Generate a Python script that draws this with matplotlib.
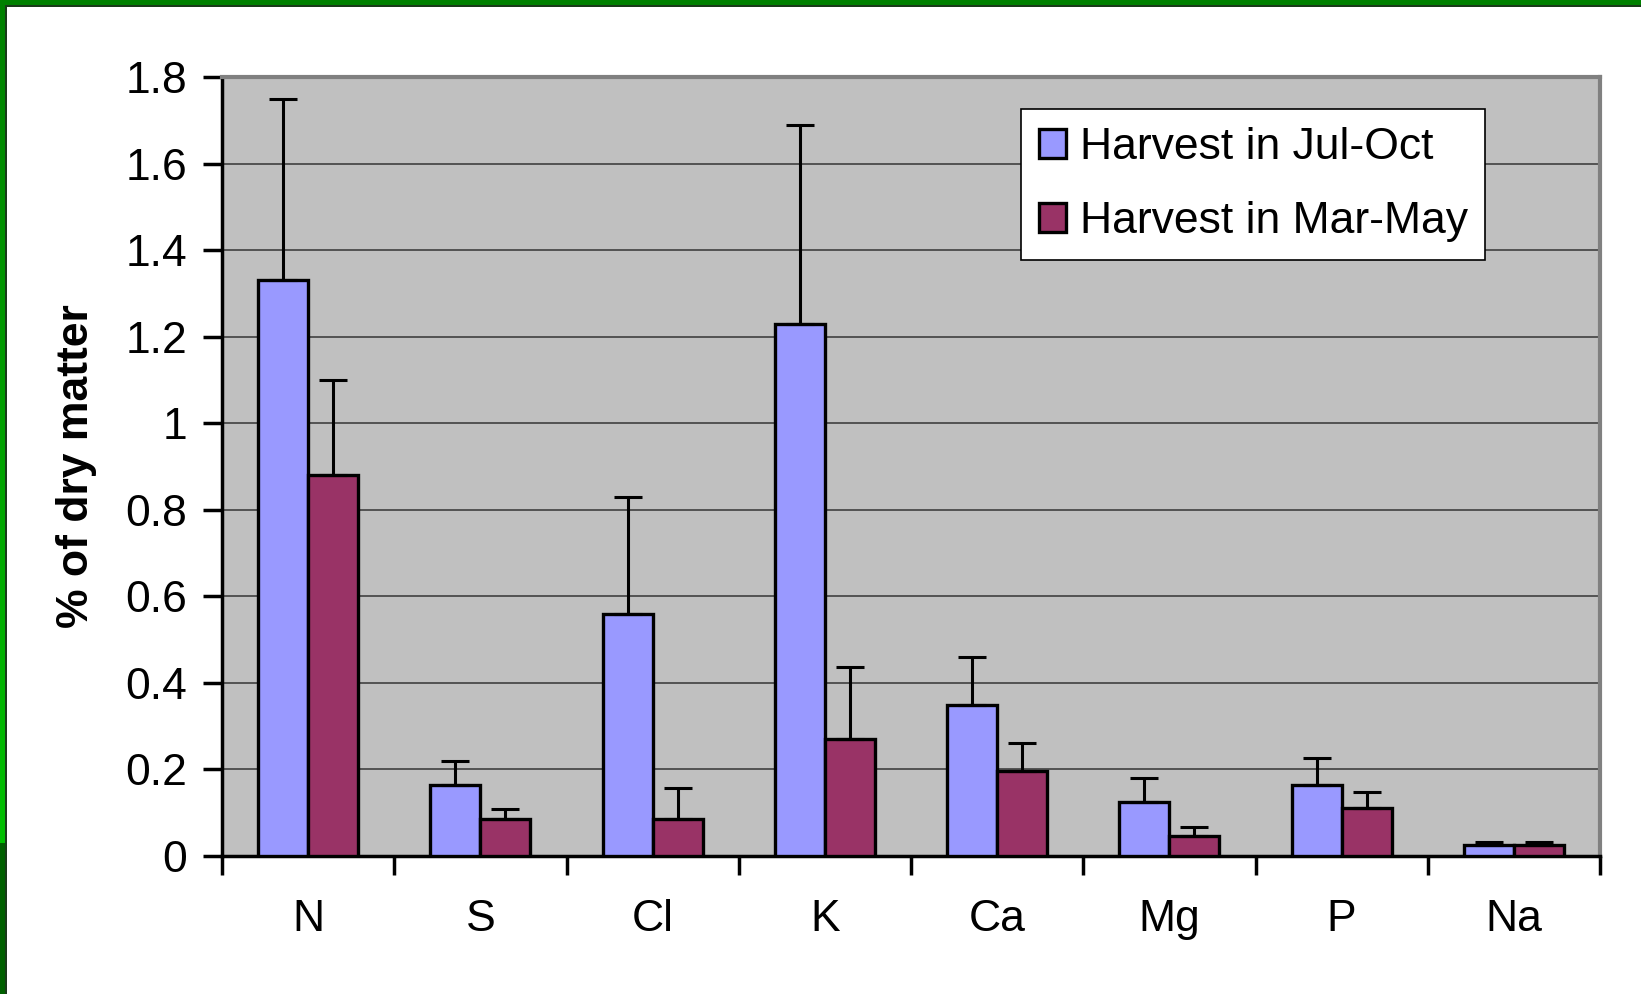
import numpy as np
import matplotlib
matplotlib.use("Agg")
import matplotlib.pyplot as plt
from matplotlib.patches import Rectangle
from matplotlib.colors import LinearSegmentedColormap

categories = ["N", "S", "Cl", "K", "Ca", "Mg", "P", "Na"]
jul_oct = [1.33, 0.165, 0.56, 1.23, 0.35, 0.125, 0.165, 0.025]
jul_oct_err = [0.42, 0.055, 0.27, 0.46, 0.11, 0.055, 0.062, 0.007]
mar_may = [0.88, 0.085, 0.085, 0.27, 0.197, 0.046, 0.11, 0.025]
mar_may_err = [0.22, 0.024, 0.072, 0.167, 0.063, 0.022, 0.038, 0.007]
series_names = ["Harvest in Jul-Oct", "Harvest in Mar-May"]
yticks = [0, 0.2, 0.4, 0.6, 0.8, 1, 1.2, 1.4, 1.6, 1.8]
ytick_labels = ["0", "0.2", "0.4", "0.6", "0.8", "1", "1.2", "1.4", "1.6", "1.8"]

plt.rcParams['font.family'] = ['Liberation Sans', 'DejaVu Sans']

W, H = 1641, 994
fig = plt.figure(figsize=(W / 100, H / 100), dpi=100)
fig.patch.set_facecolor("white")

# green frame on top and left
grad = np.linspace(0, 1, 256).reshape(-1, 1)
cmap = LinearSegmentedColormap.from_list("g", ["#008000", "#00C000"])
axg = fig.add_axes([0, 151 / H, 5 / W, (843 - 0) / H])
axg.imshow(grad, aspect="auto", cmap=cmap, extent=[0, 1, 1, 0])
axg.axis("off")
fig.patches.append(Rectangle((0, 0), 5 / W, 151 / H, transform=fig.transFigure,
                             facecolor="#006000", edgecolor="none", zorder=5))
fig.patches.append(Rectangle((0, 1 - 5 / H), 1, 5 / H, transform=fig.transFigure,
                             facecolor="#008000", edgecolor="none", zorder=5))
fig.patches.append(Rectangle((5 / W, 0), 2 / W, 1 - 5 / H, transform=fig.transFigure,
                             facecolor="#1a3a1a", edgecolor="none", zorder=6))
fig.patches.append(Rectangle((5 / W, 1 - 7 / H), 1, 2 / H, transform=fig.transFigure,
                             facecolor="#1a3a1a", edgecolor="none", zorder=6))

ax = fig.add_axes([222 / W, 138 / H, (1600 - 222) / W, (856 - 77) / H])
ax.set_facecolor("#C0C0C0")

x = np.arange(len(categories)) + 0.5
bw = 0.29
ax.bar(x - bw / 2, jul_oct, bw, color="#9999FF", edgecolor="black", linewidth=2.4,
       label=series_names[0], zorder=3)
ax.bar(x + bw / 2, mar_may, bw, color="#993366", edgecolor="black", linewidth=2.4,
       label=series_names[1], zorder=3)
ax.errorbar(x - bw / 2, jul_oct, yerr=[np.zeros(len(x)), jul_oct_err], fmt="none",
            ecolor="black", elinewidth=2.2, capsize=10, capthick=2.2, zorder=4)
ax.errorbar(x + bw / 2, mar_may, yerr=[np.zeros(len(x)), mar_may_err], fmt="none",
            ecolor="black", elinewidth=2.2, capsize=10, capthick=2.2, zorder=4)

ax.set_xlim(0, len(categories))
ax.set_ylim(0, 1.8)
ax.set_yticks(yticks)
ax.set_yticklabels(ytick_labels)
ax.yaxis.grid(True, color="#404040", linewidth=1.2, zorder=1)
ax.set_axisbelow(True)

ax.set_xticks(np.arange(len(categories) + 1))
ax.set_xticklabels([])
ax.set_xticks(x, minor=True)
ax.set_xticklabels(categories, minor=True)
ax.tick_params(axis="x", which="major", direction="out", length=14, width=2.5)
ax.tick_params(axis="x", which="minor", length=0, pad=31, labelsize=32)
ax.tick_params(axis="y", direction="out", length=14, width=2.5, pad=11, labelsize=32)

for s in ["left", "bottom"]:
    ax.spines[s].set_linewidth(2.5)
    ax.spines[s].set_color("black")
for s in ["top", "right"]:
    ax.spines[s].set_linewidth(3)
    ax.spines[s].set_color("#808080")

ax.set_ylabel("% of dry matter", fontsize=32, fontweight="bold")
ax.yaxis.set_label_coords(-0.091, 0.5)

leg = ax.legend(loc="upper left", bbox_to_anchor=(1021 / W, 1 - 109 / H),
                bbox_transform=fig.transFigure, fontsize=32, frameon=True,
                fancybox=False, handlelength=0.62, handleheight=0.62,
                handletextpad=0.3, borderpad=0.4, labelspacing=0.75,
                borderaxespad=0)
leg.get_frame().set_edgecolor("black")
leg.get_frame().set_linewidth(1.2)
leg.get_frame().set_alpha(1)
leg.set_zorder(10)

fig.savefig("out.png", dpi=100)
